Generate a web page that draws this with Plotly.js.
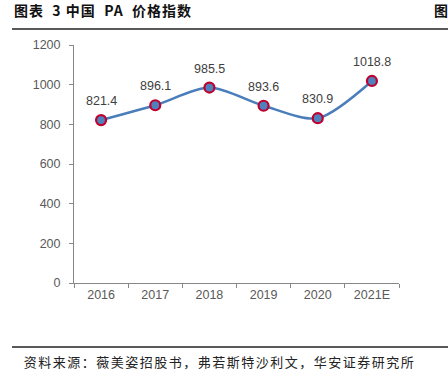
<!DOCTYPE html>
<html>
<head>
<meta charset="utf-8">
<script src="https://cdn.plot.ly/plotly-3.0.1.min.js"></script>
<style>html,body{margin:0;padding:0;background:#fff;}#chart{width:448px;height:383px;}</style>
</head>
<body>
<div id="chart"></div>
<script>
const categories = ["2016", "2017", "2018", "2019", "2020", "2021E"];
const priceIndex = [821.4, 896.1, 985.5, 893.6, 830.9, 1018.8];
const yTicks = [0, 200, 400, 600, 800, 1000, 1200];
const titleText = "图表\u00a0\u00a03\u00a0中国\u00a0\u00a0PA\u00a0\u00a0价格指数";
const sourceText = "资料来源：薇美姿招股书，弗若斯特沙利文，华安证券研究所";

const cjk = '"Noto Sans CJK SC", "Liberation Sans", sans-serif';
const latin = '"Liberation Sans", Arial, sans-serif';
const W = 448, H = 383;
const m = {l: 74, r: 49, t: 45, b: 100};
const pw = W - m.l - m.r, ph = H - m.t - m.b;
const px = x => (x - m.l) / pw;
const py = y => (H - m.b - y) / ph;

const titleLS = 1.0, sourceLS = 1.5;

const trace = {
  x: categories,
  y: priceIndex,
  type: "scatter",
  mode: "lines+markers",
  line: {color: "#4A7EBB", width: 2.5, shape: "spline", smoothing: 0.8},
  marker: {size: 10, color: "#4F81BD", line: {color: "#C0002E", width: 2.2}},
  cliponaxis: false,
  hoverinfo: "skip"
};

const labelAnns = categories.map((c, i) => ({
  x: i, y: priceIndex[i], xref: "x", yref: "y",
  text: priceIndex[i].toFixed(1),
  showarrow: false, yshift: 19, yanchor: "middle",
  font: {family: latin, size: 12.5, color: "#404040"}
}));

const layout = {
  width: W, height: H,
  margin: m,
  paper_bgcolor: "#fff", plot_bgcolor: "#fff",
  showlegend: false,
  xaxis: {
    type: "category",
    range: [-0.5, categories.length - 0.5],
    tickson: "boundaries",
    ticks: "outside", ticklen: 4, tickcolor: "#888", tickwidth: 1,
    showline: true, linecolor: "#888", linewidth: 1,
    showgrid: false, zeroline: false,
    tickfont: {family: latin, size: 12.5, color: "#595959"},
    fixedrange: true
  },
  yaxis: {
    range: [0, 1200],
    tickvals: yTicks,
    ticktext: yTicks.map(String),
    ticks: "outside", ticklen: 4, tickcolor: "#888", tickwidth: 1,
    showline: true, linecolor: "#888", linewidth: 1,
    showgrid: false, zeroline: false,
    tickfont: {family: latin, size: 12.5, color: "#595959"},
    ticklabelstandoff: 6,
    fixedrange: true
  },
  shapes: [
    {type: "line", xref: "paper", yref: "paper", x0: px(12), x1: px(448), y0: py(29), y1: py(29), line: {color: "#222", width: 1.5}},
    {type: "line", xref: "paper", yref: "paper", x0: px(12), x1: px(448), y0: py(347), y1: py(347), line: {color: "#222", width: 1.5}}
  ],
  annotations: labelAnns.concat([
    {text: "<b>" + titleText + "</b>", xref: "paper", yref: "paper", x: px(12 + titleText.length * titleLS / 2), y: py(10), xanchor: "left", yanchor: "middle", showarrow: false, font: {family: cjk, size: 14, color: "#111"}},
    {text: "<b>图</b>", xref: "paper", yref: "paper", x: px(432), y: py(10), xanchor: "left", yanchor: "middle", showarrow: false, font: {family: cjk, size: 14, color: "#111"}},
    {text: sourceText, xref: "paper", yref: "paper", x: px(22 + sourceText.length * sourceLS / 2), y: py(361), xanchor: "left", yanchor: "middle", showarrow: false, font: {family: cjk, size: 13, color: "#222"}}
  ])
};

Plotly.newPlot("chart", [trace], layout, {displayModeBar: false, staticPlot: true}).then(() => {
  const texts = document.querySelectorAll(".annotation-text");
  texts.forEach(t => {
    if (t.textContent === sourceText) t.style.letterSpacing = sourceLS + "px";
    if (t.textContent.indexOf("价格指数") >= 0) t.style.letterSpacing = titleLS + "px";
  });
});
</script>
</body>
</html>
